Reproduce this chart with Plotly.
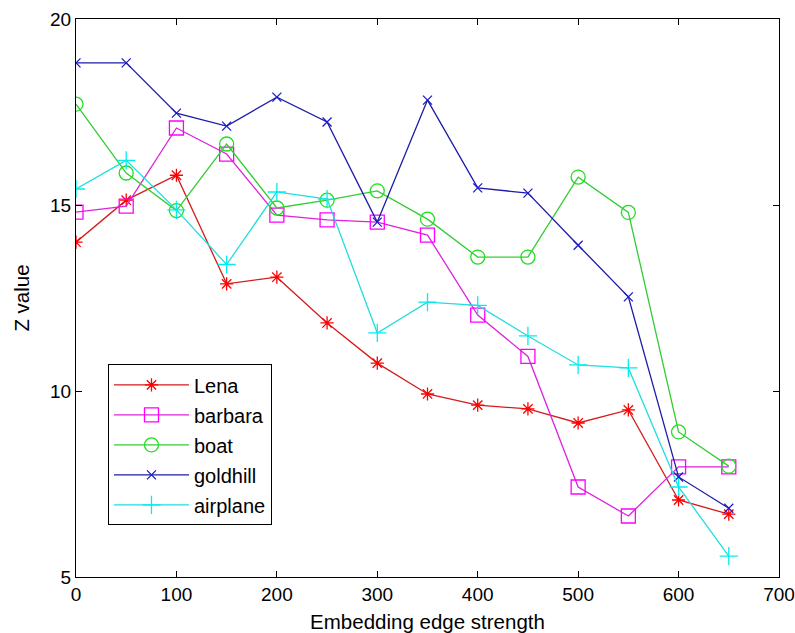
import plotly.graph_objects as go

x_vals = [0, 50, 100, 150, 200, 250, 300, 350, 400, 450, 500, 550, 600, 650]

lena = [14.0, 15.13, 15.8, 12.88, 13.06, 11.83, 10.75, 9.92, 9.62, 9.52, 9.14, 9.49, 7.07, 6.69]
barbara = [14.81, 14.97, 17.07, 16.37, 14.73, 14.6, 14.54, 14.19, 12.04, 10.93, 7.42, 6.64, 7.96, 7.96]
boat = [17.71, 15.86, 14.85, 16.64, 14.92, 15.13, 15.38, 14.62, 13.6, 13.6, 15.75, 14.8, 8.9, 7.98]
goldhill = [18.82, 18.82, 17.47, 17.12, 17.9, 17.23, 14.54, 17.82, 15.46, 15.32, 13.92, 12.53, 7.69, 6.85]
airplane = [15.43, 16.2, 14.87, 13.4, 15.35, 15.16, 11.56, 12.39, 12.3, 11.48, 10.7, 10.62, 7.42, 5.56]

series = [
    ("Lena", lena, "#d41c1c", "#ff0000", "asterisk-open", 11),
    ("barbara", barbara, "#dd22dd", "#ff00ff", "square-open", 14),
    ("boat", boat, "#33cc33", "#22dd22", "circle-open", 14),
    ("goldhill", goldhill, "#1c1ca8", "#1c1cc8", "x-thin-open", 9),
    ("airplane", airplane, "#22dddd", "#00eeee", "cross-thin-open", 13),
]

FONT = "Liberation Sans, Arial, sans-serif"

fig = go.Figure()
for name, vals, lc, mc, sym, sz in series:
    fig.add_trace(go.Scatter(
        x=x_vals, y=vals, name=name, mode="lines+markers",
        legendgroup=name,
        line=dict(color=lc, width=1.3),
        marker=dict(symbol=sym, size=sz, color=mc, line=dict(color=mc, width=1.3)),
    ))

fig.update_layout(
    width=795, height=633,
    margin=dict(l=76, r=16, t=19, b=56),
    paper_bgcolor="white", plot_bgcolor="white",
    font=dict(family=FONT, size=19, color="black"),
    showlegend=True,
    legend=dict(
        x=0.0455, y=0.381, xanchor="left", yanchor="top",
        bordercolor="black", borderwidth=1, bgcolor="white",
        font=dict(family=FONT, size=20, color="black"),
        tracegroupgap=1, itemwidth=75,
    ),
    xaxis=dict(
        range=[0, 700], tickvals=[0, 100, 200, 300, 400, 500, 600, 700],
        showline=True, linecolor="black", linewidth=1, mirror="ticks",
        ticks="inside", ticklen=6, tickcolor="black", showgrid=False, zeroline=False,
        automargin=False,
        title=dict(text="Embedding edge strength", standoff=12, font=dict(size=20.5)),
    ),
    yaxis=dict(
        range=[5, 20], tickvals=[5, 10, 15, 20],
        showline=True, linecolor="black", linewidth=1, mirror="ticks",
        ticks="inside", ticklen=6, tickcolor="black", showgrid=False, zeroline=False,
        automargin=False,
        title=dict(text="Z value", standoff=14, font=dict(size=20.5)),
    ),
)

fig.write_html("out.html")
